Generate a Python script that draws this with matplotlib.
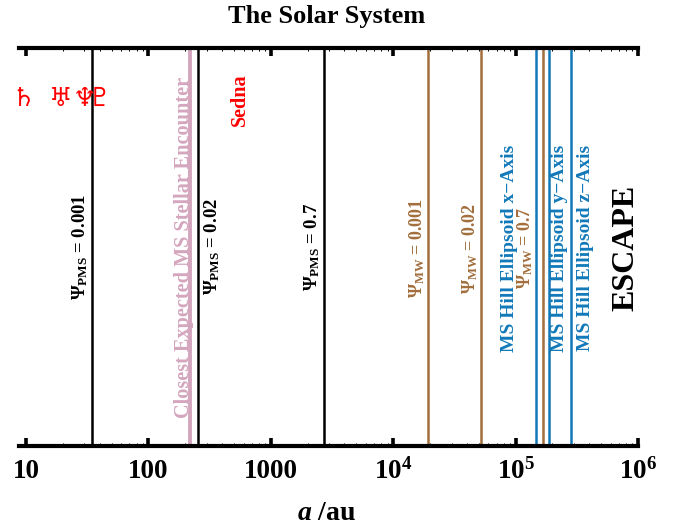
import matplotlib
matplotlib.use("Agg")
import matplotlib.pyplot as plt
from matplotlib.ticker import FixedLocator, NullFormatter

plt.rcParams['font.family'] = ['Liberation Serif', 'DejaVu Sans']
plt.rcParams['font.weight'] = 'bold'
plt.rcParams['mathtext.fontset'] = 'custom'
plt.rcParams['mathtext.rm'] = 'Liberation Serif:bold'
plt.rcParams['mathtext.it'] = 'Liberation Serif:italic:bold'
plt.rcParams['mathtext.bf'] = 'Liberation Serif:bold'

W, H = 678, 527

# semi-major axes in au
planet_names = ['\u2644', '\u2645', '\u2646', '\u2647']
planet_a = [9.5, 19.2, 30.1, 39.5]
sedna_a = 560
pms_a = [34.7, 255, 2716]
mw_a = [19300, 52500, 167000]
hill_a = [148000, 189000, 285000]
encounter_a = 220

xticks = [10, 100, 1000, 1e4, 1e5, 1e6]
xticklabels = ['10', '100', '1000', '$\\mathrm{10^{4}}$', '$\\mathrm{10^{5}}$', '$\\mathrm{10^{6}}$']

pms_labels = ['$\\Psi_{\\mathrm{PMS}}$ = 0.001', '$\\Psi_{\\mathrm{PMS}}$ = 0.02', '$\\Psi_{\\mathrm{PMS}}$ = 0.7']
mw_labels = ['$\\Psi_{\\mathrm{MW}}$ = 0.001', '$\\Psi_{\\mathrm{MW}}$ = 0.02', '$\\Psi_{\\mathrm{MW}}$ = 0.7']
hill_labels = ['MS Hill Ellipsoid x\u2212Axis', 'MS Hill Ellipsoid y\u2212Axis', 'MS Hill Ellipsoid z\u2212Axis']

BROWN = '#A26E3C'
BLUE = '#1279B9'
PINK = '#D4A6BE'

fig = plt.figure(figsize=(W / 100, H / 100), dpi=100)
ax = fig.add_axes([19 / W, 1 - 446 / H, (638 - 19) / W, (446 - 48) / H])
ax.set_xscale('log')
# one decade is 122.2 px, axis starts 7 px left of 10
ax.set_xlim(10 ** (1 - 7 / 122.2), 1e6)
ax.set_ylim(0, 1)


def put(px, py, text, **kw):
    # label placed by its centre in pixels of the picture
    fig.text(px / W, 1 - py / H, text, ha='center', va='center', **kw)


for a in pms_a:
    ax.axvline(a, color='black', lw=1.8)
for a in mw_a:
    ax.axvline(a, color=BROWN, lw=1.8)
for a in hill_a:
    ax.axvline(a, color=BLUE, lw=1.8)
ax.axvline(encounter_a, color=PINK, lw=2.8)

for name, a in zip(planet_names, planet_a):
    ax.text(a, 0.872, name, color='red', fontsize=19, ha='center', va='center',
            family='DejaVu Sans', clip_on=False)

ax.text(sedna_a, 0.87, 'Sedna', color='red', fontsize=14.5, rotation=90, ha='center', va='center')
put(184, 247, 'Closest Expected MS Stellar Encounter', color=PINK, fontsize=14.6, rotation=90)

for px, label in zip([80, 212, 312], pms_labels):
    put(px, 247, label, color='black', fontsize=13.5, rotation=90)
for px, label in zip([417, 470, 525], mw_labels):
    put(px, 248, label, color=BROWN, fontsize=13, rotation=90)
for px, label in zip([510, 560, 585], hill_labels):
    put(px, 248, label, color=BLUE, fontsize=14, rotation=90)

put(626, 248, 'ESCAPE', color='black', fontsize=23, rotation=90)
put(327, 17, 'The Solar System', color='black', fontsize=19)
put(327, 514, '$a$ /au', color='black', fontsize=20)

ax.spines['left'].set_visible(False)
ax.spines['right'].set_visible(False)
ax.spines['top'].set_linewidth(3)
ax.spines['bottom'].set_linewidth(3)

ax.set_yticks([])
ax.xaxis.set_major_locator(FixedLocator(xticks))
ax.set_xticklabels(xticklabels)
ax.xaxis.set_minor_locator(FixedLocator([m * 10.0 ** e for e in range(1, 6) for m in range(2, 10)]))
ax.xaxis.set_minor_formatter(NullFormatter())
ax.tick_params(axis='x', which='major', direction='in', top=True, length=6, width=2.6,
               labelsize=19.5, pad=9)
ax.tick_params(axis='x', which='minor', direction='in', top=True, length=2.5, width=0.7)

fig.savefig('out.png', dpi=100)
